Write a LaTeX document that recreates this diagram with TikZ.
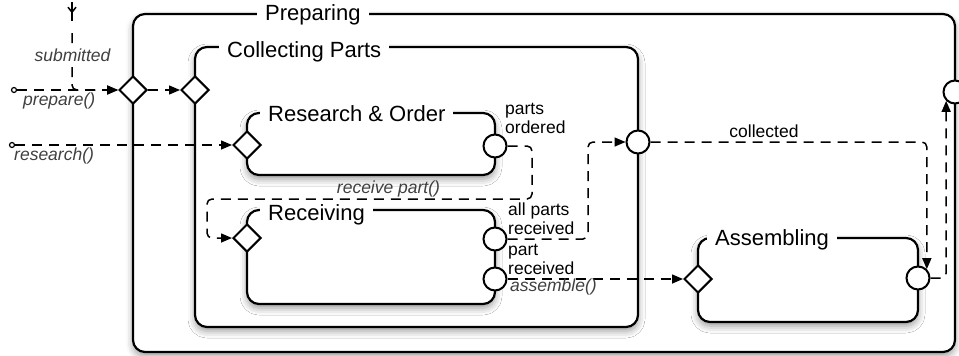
\documentclass[tikz,border=0pt]{standalone}
\usepackage{fontspec}
\setmainfont{Liberation Sans}
\usepackage{tikz}
\usetikzlibrary{arrows.meta,shapes.geometric,shadows.blur,decorations.markings}

\newcommand{\titlefont}{\fontsize{22}{24}\selectfont}
\newcommand{\labelfont}{\fontsize{17.5}{19}\selectfont}

\tikzset{
  statebox/.style={ draw, line width=2.2pt, rounded corners=12pt, fill=white, inner sep=0pt,
    blur shadow={shadow xshift=0pt, shadow yshift=-4pt, shadow blur radius=7pt, shadow opacity=40} }
}
\tikzset{
  boxtitle/.style={ fill=white, anchor=base west, inner xsep=8pt, inner ysep=1pt, font=\titlefont }
}
\tikzset{
  entrypt/.style={ draw, diamond, fill=white, line width=2pt, minimum width=28pt, minimum height=28pt, inner sep=0pt }
}
\tikzset{
  exitpt/.style={ draw, circle, fill=white, line width=2pt, minimum size=23pt, inner sep=0pt }
}
\tikzset{
  srcpt/.style={ draw, circle, fill=white, line width=1.2pt, minimum size=5pt, inner sep=0pt }
}
\tikzset{
  flow/.style={ line width=1.5pt, dash pattern=on 10pt off 7pt, rounded corners=5pt, -{Triangle[length=11pt,width=9pt]} }
}
\tikzset{
  tlabel/.style={ font=\labelfont, inner sep=0pt },
  calllabel/.style={ font=\labelfont\itshape, text=black!75, inner sep=0pt }
}

\begin{document}
\begin{tikzpicture}[x=1pt, y=-1pt]
      \useasboundingbox (0,0) rectangle (959,356);

      \node[statebox, minimum width=822pt, minimum height=338pt] (preparing) at (544,183) {};
      \node[boxtitle] (prepTitle) at (257,20) {Preparing};

      \node[statebox, minimum width=443pt, minimum height=280pt] (collecting) at (416.5,187) {};
      \node[boxtitle] (collTitle) at (219,57) {Collecting Parts};

      \node[statebox, minimum width=248pt, minimum height=62pt] (research) at (371,144) {};
      \node[boxtitle] (resTitle) at (260,121) {Research \& Order};

      \node[statebox, minimum width=248pt, minimum height=94pt] (receiving) at (371,257) {};
      \node[boxtitle] (recTitle) at (260,220) {Receiving};

      \node[statebox, minimum width=220pt, minimum height=84pt] (assembling) at (808,280) {};
      \node[boxtitle] (asmTitle) at (707,245) {Assembling};

      \node[entrypt] (prepIn) at (133,90) {};
      \node[exitpt] (prepOut) at (955,92) {};
      \node[entrypt] (collIn) at (195,90) {};
      \node[exitpt] (collOut) at (638,142) {};
      \node[entrypt] (resIn) at (247,145) {};
      \node[exitpt] (resOut) at (495,146) {};
      \node[entrypt] (recIn) at (247,238) {};
      \node[exitpt] (recAll) at (495,239) {};
      \node[exitpt] (recPart) at (495,279) {};
      \node[entrypt] (asmIn) at (698,279) {};
      \node[exitpt] (asmOut) at (918,278) {};

      \node[srcpt] (prepSrc) at (14,90) {};
      \node[srcpt] (resSrc) at (12,145) {};
      \coordinate (subTop) at (72,2);

      % triggers from outside
      \draw[line width=1.5pt, postaction={decorate},
        decoration={markings, mark=at position 0.6 with {\arrow{Straight Barb[length=5pt,width=8pt]}}}]
        (subTop) -- ++(0,19);
      \begin{scope}[flow]
        \draw (subTop) ++(0,31) |- (prepIn);
        \draw (prepSrc) -- (prepIn);
        \draw (resSrc) -- (resIn);
        \draw (prepIn) -- (collIn);

        \draw (resOut) -- ++(37,0) |- (207,199) |- (recIn);
        \draw (recAll) -- ++(93,0) |- (collOut);
        \draw (recPart) -- (asmIn);
        \draw (collOut) -| (asmOut.north east);
        \draw (asmOut) -| (prepOut.south west);
      \end{scope}

      \node[calllabel, fill=white, inner sep=2pt, anchor=base] (subLbl) at (72.5,61) {submitted};
      \node[calllabel, anchor=base west] (prepLbl) at (23,105) {prepare()};
      \node[calllabel, anchor=base west] (resLbl) at (14,160) {research()};
      \node[tlabel, anchor=west, align=left] (ordLbl) at (505,118.7) {parts\\ordered};
      \node[calllabel, anchor=base] (rcvLbl) at (388.5,193) {receive part()};
      \node[tlabel, anchor=west, align=left] (allLbl) at (508,218.3) {all parts\\received};
      \node[tlabel, anchor=west, align=left] (partLbl) at (508,259.3) {part\\received};
      \node[calllabel, anchor=base west] (asmLbl) at (510,291) {assemble()};
      \node[tlabel, anchor=base] (colLbl) at (764,137) {collected};
\end{tikzpicture}
\end{document}
